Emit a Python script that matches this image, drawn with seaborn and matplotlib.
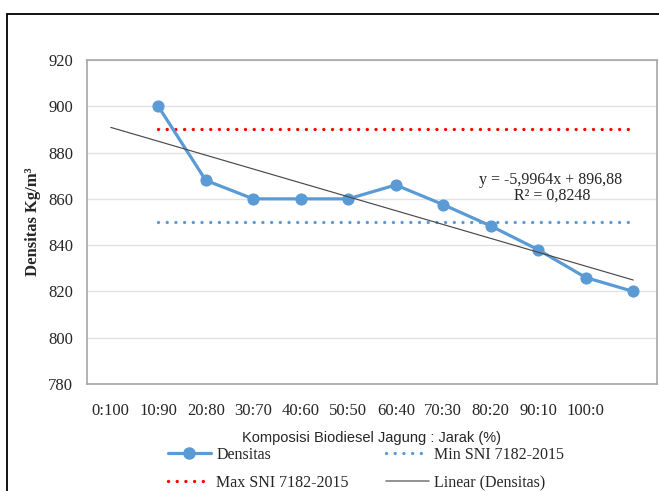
import numpy as np
import pandas as pd
import matplotlib
matplotlib.use("Agg")
import matplotlib.pyplot as plt
import seaborn as sns
from matplotlib.lines import Line2D
from matplotlib.patches import Rectangle

# ---- data ----
tick_labels = ["0:100", "10:90", "20:80", "30:70", "40:60", "50:50",
               "60:40", "70:30", "80:20", "90:10", "100:0"]
data_pos = [1, 2, 3, 4, 5, 6, 7, 8, 9, 10, 11]          # category slots of the points
densitas = [900, 868, 860, 860, 860, 866, 857.5, 848.3, 838, 826, 820]
min_sni = 850
max_sni = 890
trend_slope = -5.9964
trend_intercept = 896.88
trend_x = list(range(1, 13))   # Excel x index (1..12)

sns.set_style("white")
plt.rcParams["font.family"] = ["Liberation Serif", "DejaVu Serif"]

fig = plt.figure(figsize=(6.59, 4.91), dpi=100)
ax = fig.add_axes([87/659, 1-384/491, (657-87)/659, (384-60)/491])

blue = "#5B9BD5"
df = pd.DataFrame({"pos": data_pos, "Densitas": densitas})

dot = (0, (0.01, 2.6))
ax.plot([data_pos[0], data_pos[-1]], [max_sni]*2, color="#FF0000", lw=2.4,
        linestyle=dot, dash_capstyle="round", zorder=2)
ax.plot([data_pos[0], data_pos[-1]], [min_sni]*2, color=blue, lw=2.4,
        linestyle=dot, dash_capstyle="round", zorder=2)

sns.lineplot(data=df, x="pos", y="Densitas", ax=ax, color=blue, lw=2.3,
             marker="o", markersize=8, markeredgecolor=blue, zorder=3)

tx = np.array(trend_x)
ty = trend_slope * tx + trend_intercept
ax.plot(tx - 1, ty, color="#4A4A4A", lw=0.85, zorder=4)

ax.set_xlim(-0.5, 11.5)
ax.set_ylim(780, 920)
ax.set_yticks(np.arange(780, 921, 20))
ax.yaxis.grid(True, color="#E3E3E3", lw=1)
ax.set_xticks(range(len(tick_labels)))
ax.set_xticklabels(tick_labels, fontsize=12)
ax.set_xticks(np.arange(-0.5, 11.6, 1), minor=True)
ax.tick_params(axis="x", which="major", length=0, pad=14)
ax.tick_params(axis="x", which="minor", length=4, color="#9A9A9A", width=1)
ax.tick_params(axis="y", length=0, labelsize=12, pad=10)
for s in ax.spines.values():
    s.set_color("#A6A6A6")
    s.set_linewidth(1.2)

ax.set_xlabel("Komposisi Biodiesel Jagung : Jarak (%)", family=["Liberation Sans", "DejaVu Sans"],
              fontsize=10.5, labelpad=8)
ax.set_ylabel("Densitas Kg/m³", fontsize=12, fontweight="bold")
ax.yaxis.set_label_coords((41 - 87) / 570, 0.5)

fig.text(551/659, 1-180/491, "y = -5,9964x + 896,88", ha="center", va="center", fontsize=11.5)
fig.text(552/659, 1-196/491, "R² = 0,8248", ha="center", va="center", fontsize=11.5)

handles = [
    Line2D([], [], color=blue, lw=2.3, marker="o", markersize=8),
    Line2D([], [], color="#FF0000", lw=2.4, linestyle=dot, dash_capstyle="round"),
    Line2D([], [], color=blue, lw=2.4, linestyle=dot, dash_capstyle="round"),
    Line2D([], [], color="#7F7F7F", lw=1.2),
]
labels = ["Densitas", "Max SNI 7182-2015", "Min SNI 7182-2015", "Linear (Densitas)"]
fig.legend(handles, labels, ncol=2, loc="center", bbox_to_anchor=(366/659, 1-469/491),
           frameon=False, fontsize=11.5, handlelength=2.7, handletextpad=0.35,
           columnspacing=2.3, labelspacing=0.75)

# outer frame
fig.patches.append(Rectangle((7/659, -0.05), 1.2, (491-14)/491 + 0.05, transform=fig.transFigure,
                             fill=False, edgecolor="black", lw=1.3))

fig.savefig("out.png", dpi=100)
